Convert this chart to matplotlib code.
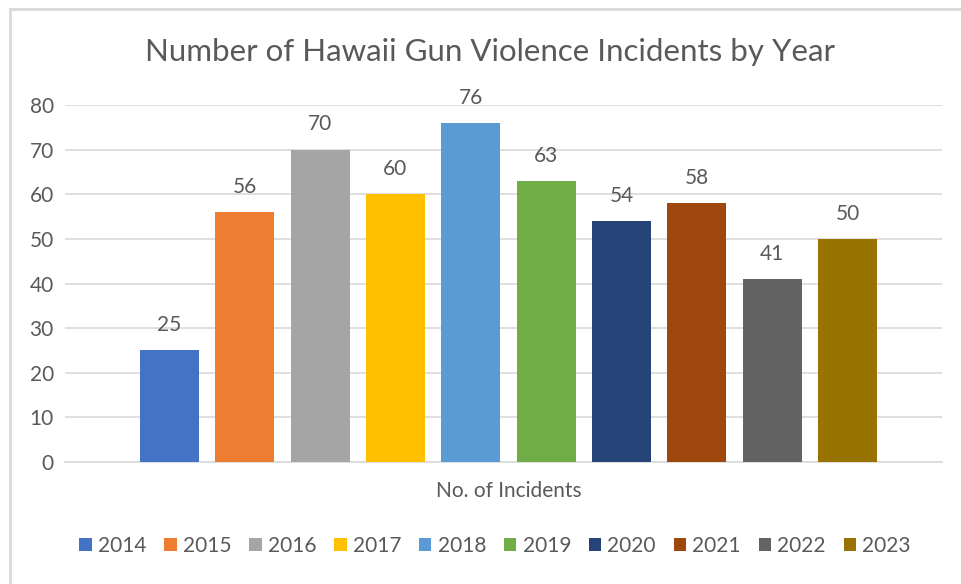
import matplotlib.pyplot as plt
from matplotlib.lines import Line2D
from matplotlib.patches import Patch

# data
years = ['2014', '2015', '2016', '2017', '2018', '2019', '2020', '2021', '2022', '2023']
incidents = [25, 56, 70, 60, 76, 63, 54, 58, 41, 50]
colors = ['#4472C4', '#ED7D31', '#A5A5A5', '#FFC000', '#5B9BD5',
          '#70AD47', '#264478', '#9E480E', '#636363', '#997300']
category = 'No. of Incidents'
title = 'Number of Hawaii Gun Violence Incidents by Year'

txt = '#595959'
grid = '#D9D9D9'
plt.rcParams['font.family'] = ['Lato', 'DejaVu Sans']

fig = plt.figure(figsize=(9.61, 5.84), dpi=100)
ax = fig.add_axes([65 / 961, 122 / 584, 877 / 961, 357 / 584])

# one group, one bar per year
for i, (y, v, c) in enumerate(zip(years, incidents, colors)):
    ax.bar(i, v, width=0.783, color=c, label=y, zorder=3)
    ax.annotate(str(v), (i, v), xytext=(0, 11), textcoords='offset points',
                ha='center', va='bottom', fontsize=15, color=txt)

ax.set_ylim(0, 80)
ax.set_xlim(-1.387, 10.255)
ax.set_yticks(range(0, 81, 10))
ax.yaxis.grid(True, color=grid, linewidth=1.2, zorder=0)
ax.set_xticks([(len(years) - 1) / 2])
ax.set_xticklabels([category])
ax.tick_params(length=0, colors=txt, labelsize=15)
ax.tick_params(axis='x', pad=14)
ax.tick_params(axis='y', pad=8)
for s in ['top', 'right', 'left']:
    ax.spines[s].set_visible(False)
ax.spines['bottom'].set_color(grid)
ax.spines['bottom'].set_linewidth(1.2)

fig.text(490 / 961, 1 - 52 / 584, title, ha='center', va='center',
         fontsize=22.5, color=txt)

handles = [Patch(facecolor=c, edgecolor='none') for c in colors]
fig.legend(handles, years, loc='center', bbox_to_anchor=(495 / 961, 38 / 584),
           ncol=len(years), frameon=False, fontsize=15, labelcolor=txt,
           handlelength=0.6, handleheight=0.6, handletextpad=0.3,
           columnspacing=0.85)

# chart border (top and left edge visible)
fig.add_artist(Line2D([10 / 961, 1], [1 - 9 / 584, 1 - 9 / 584],
                      color='#D9D9D9', linewidth=2, transform=fig.transFigure))
fig.add_artist(Line2D([10 / 961, 10 / 961], [0, 1 - 9 / 584],
                      color='#D9D9D9', linewidth=2, transform=fig.transFigure))

plt.savefig('out.png', dpi=100)
